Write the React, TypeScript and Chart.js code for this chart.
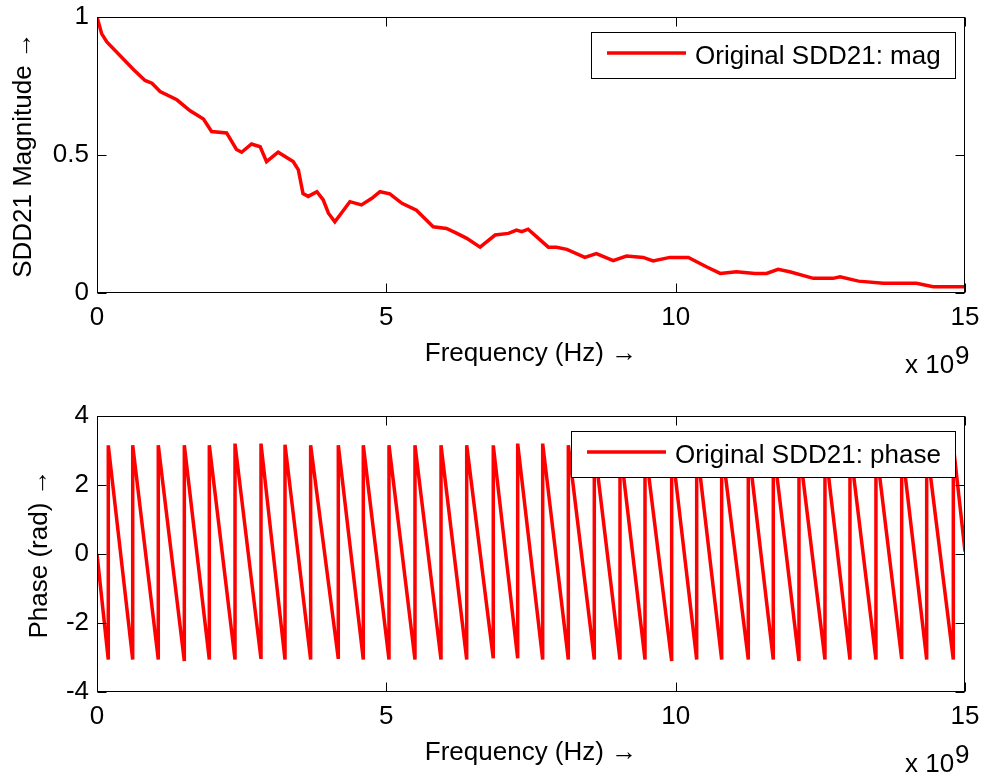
import React, { useEffect, useRef } from 'react';
import { Chart, registerables } from 'chart.js';

Chart.register(...registerables);

const FONT = "'Liberation Sans', Arial, Helvetica, sans-serif";

// ---- Magnitude of SDD21 (frequency in GHz, i.e. x 10^9 Hz) ----
const magFreqGHz = [
  0, 0.08, 0.17, 0.63, 0.83, 0.95, 1.09, 1.38, 1.61, 1.84, 1.98, 2.24, 2.41, 2.5, 2.67, 2.82, 2.93,
  3.13, 3.39, 3.48, 3.56, 3.65, 3.8, 3.91, 4.0, 4.11, 4.26, 4.37, 4.57, 4.75, 4.89, 5.06, 5.27, 5.52,
  5.81, 6.04, 6.22, 6.39, 6.62, 6.88, 7.11, 7.25, 7.34, 7.45, 7.8, 7.94, 8.12, 8.43, 8.63, 8.92, 9.15,
  9.44, 9.61, 9.9, 10.22, 10.53, 10.77, 11.05, 11.37, 11.57, 11.77, 11.97, 12.38, 12.72, 12.84, 13.16,
  13.59, 14.16, 14.45, 15.0,
];
const magValue = [
  1.0, 0.94, 0.91, 0.81, 0.77, 0.76, 0.73, 0.7, 0.66, 0.63, 0.585, 0.58, 0.52, 0.51, 0.54, 0.53, 0.476,
  0.51, 0.476, 0.446, 0.36, 0.35, 0.367, 0.337, 0.289, 0.258, 0.3, 0.331, 0.319, 0.343, 0.367, 0.359, 0.325, 0.3,
  0.24, 0.234, 0.216, 0.198, 0.166, 0.21, 0.216, 0.228, 0.222, 0.231, 0.166, 0.166, 0.158, 0.129, 0.143, 0.117, 0.134,
  0.129, 0.116, 0.129, 0.129, 0.095, 0.071, 0.077, 0.071, 0.071, 0.086, 0.077, 0.053, 0.053, 0.059, 0.043,
  0.035, 0.035, 0.023, 0.023,
];

// ---- Phase of SDD21 (wrapped): frequencies where the phase jumps from trough to peak ----
const phaseWrapGHz = [
  0.195, 0.617, 1.059, 1.509, 1.941, 2.385, 2.834, 3.249, 3.692, 4.17, 4.602, 5.046, 5.495, 5.945,
  6.389, 6.848, 7.27, 7.702, 8.145, 8.594, 9.038, 9.47, 9.931, 10.363, 10.795, 11.255, 11.687,
  12.131, 12.58, 13.012, 13.461, 13.906, 14.338, 14.798,
];
const phasePeak = [
  3.15, 3.15, 3.15, 3.15, 3.15, 3.2, 3.2, 3.17, 3.15, 3.15, 3.15, 3.15, 3.15, 3.15, 3.15, 3.15, 3.2,
  3.2, 3.15, 3.15, 3.15, 3.15, 3.15, 3.15, 3.15, 3.15, 3.15, 3.15, 3.15, 3.15, 3.15, 3.15, 3.15, 3.15,
];
const phaseTrough = [
  -3.06, -3.06, -3.06, -3.1, -3.06, -3.06, -3.04, -3.06, -3.06, -3.04, -3.06, -3.06, -3.06, -3.06,
  -3.06, -3.02, -3.02, -3.06, -3.06, -3.06, -3.06, -3.06, -3.1, -3.06, -3.06, -3.06, -3.06, -3.1,
  -3.06, -3.06, -3.06, -3.04, -3.06, -3.06,
];
const phaseStartGHz = 0;
const phaseStartValue = 0;
const phaseEndGHz = 15;
const phaseEndValue = 0.07;

const xTickStep = 5;
const magTickStep = 0.5;
const phaseTickStep = 2;

const matlabPlugin = {
  id: 'matlabAxes',
  afterDraw(chart: any) {
    const { ctx, chartArea: a, scales } = chart;
    const xs = scales.x;
    const ys = scales.y;
    ctx.save();
    ctx.strokeStyle = '#000';
    ctx.lineWidth = 1;
    const L = Math.round(a.left) + 0.5;
    const R = Math.round(a.right) - 0.5;
    const T = Math.round(a.top) + 0.5;
    const B = Math.round(a.bottom) - 0.5;
    ctx.strokeRect(L, T, R - L, B - T);
    const tl = 9;
    ctx.beginPath();
    xs.ticks.forEach((t: any) => {
      const p = Math.round(xs.getPixelForValue(t.value)) + 0.5;
      ctx.moveTo(p, B);
      ctx.lineTo(p, B - tl);
      ctx.moveTo(p, T);
      ctx.lineTo(p, T + tl);
    });
    ys.ticks.forEach((t: any) => {
      const p = Math.round(ys.getPixelForValue(t.value)) + 0.5;
      ctx.moveTo(L, p);
      ctx.lineTo(L + tl, p);
      ctx.moveTo(R, p);
      ctx.lineTo(R - tl, p);
    });
    ctx.stroke();

    // legend box (MATLAB style, top-right inside axes)
    const label = chart.data.datasets[0].label as string;
    ctx.font = `26px ${FONT}`;
    const tw = ctx.measureText(label).width;
    const bw = Math.round(16 + 79 + 9 + tw + 14);
    const bh = 46;
    const bx = Math.round(a.right - 10 - bw);
    const by = Math.round(a.top + 15);
    ctx.fillStyle = '#fff';
    ctx.fillRect(bx, by, bw, bh);
    ctx.strokeStyle = '#000';
    ctx.lineWidth = 1;
    ctx.strokeRect(bx + 0.5, by + 0.5, bw, bh);
    ctx.strokeStyle = '#ff0000';
    ctx.lineWidth = 3.5;
    ctx.beginPath();
    ctx.moveTo(bx + 16, by + bh / 2 - 2);
    ctx.lineTo(bx + 95, by + bh / 2 - 2);
    ctx.stroke();
    ctx.fillStyle = '#000';
    ctx.textAlign = 'left';
    ctx.textBaseline = 'alphabetic';
    ctx.fillText(label, bx + 104, by + bh / 2 + 9);

    // x-axis exponent
    ctx.fillText('x 10', a.right - 60, a.bottom + 80);
    ctx.fillText('9', a.right - 10, a.bottom + 71);
    ctx.restore();
  },
};

const zeroPad = (s: any) => {
  s.paddingTop = 0;
  s.paddingBottom = 0;
  s.paddingLeft = 0;
  s.paddingRight = 0;
};

function makeConfig(points: { x: number; y: number }[], label: string, yTitle: string, yMin: number, yMax: number, yStep: number, yTitlePad: number) {
  return {
    type: 'line' as const,
    data: {
      datasets: [
        {
          label,
          data: points,
          borderColor: '#ff0000',
          backgroundColor: '#ff0000',
          borderWidth: 3.5,
          pointRadius: 0,
          tension: 0,
          fill: false,
        },
      ],
    },
    options: {
      animation: false as const,
      responsive: false,
      maintainAspectRatio: false,
      layout: { padding: { top: 17, right: 17, left: 0, bottom: 0 } },
      plugins: {
        legend: { display: false },
        tooltip: { enabled: false },
      },
      scales: {
        x: {
          type: 'linear' as const,
          min: 0,
          max: 15,
          ticks: {
            stepSize: xTickStep,
            padding: 9,
            color: '#000',
            font: { family: FONT, size: 26 },
            maxRotation: 0,
            callback: (v: any) => String(v),
          },
          grid: { display: false, drawTicks: false },
          border: { display: false },
          title: {
            display: true,
            text: 'Frequency (Hz) \u2192',
            color: '#000',
            font: { family: FONT, size: 26 },
            padding: { top: 0, bottom: 8 },
          },
          afterFit: (s: any) => {
            s.height = 84;
            zeroPad(s);
          },
        },
        y: {
          type: 'linear' as const,
          min: yMin,
          max: yMax,
          ticks: {
            stepSize: yStep,
            padding: 8,
            color: '#000',
            font: { family: FONT, size: 26 },
            callback: (v: any) => String(Math.round(v * 100) / 100),
          },
          grid: { display: false, drawTicks: false },
          border: { display: false },
          title: {
            display: true,
            text: yTitle,
            color: '#000',
            font: { family: FONT, size: 26 },
            padding: { top: yTitlePad, bottom: 0 },
          },
          afterFit: (s: any) => {
            s.width = 97;
            zeroPad(s);
          },
        },
      },
    },
    plugins: [matlabPlugin],
  };
}

export default function App() {
  const topRef = useRef<HTMLCanvasElement>(null);
  const botRef = useRef<HTMLCanvasElement>(null);

  useEffect(() => {
    const magPoints = magFreqGHz.map((f, i) => ({ x: f, y: magValue[i] }));
    const phasePoints: { x: number; y: number }[] = [{ x: phaseStartGHz, y: phaseStartValue }];
    phaseWrapGHz.forEach((f, i) => {
      phasePoints.push({ x: f, y: phaseTrough[i] });
      phasePoints.push({ x: f, y: phasePeak[i] });
    });
    phasePoints.push({ x: phaseEndGHz, y: phaseEndValue });

    const c1 = new Chart(
      topRef.current as HTMLCanvasElement,
      makeConfig(magPoints, 'Original SDD21: mag', 'SDD21 Magnitude \u2192', 0, 1, magTickStep, 8) as any
    );
    const c2 = new Chart(
      botRef.current as HTMLCanvasElement,
      makeConfig(phasePoints, 'Original SDD21: phase', 'Phase (rad) \u2192', -4, 4, phaseTickStep, 24) as any
    );
    return () => {
      c1.destroy();
      c2.destroy();
    };
  }, []);

  return (
    <div style={{ position: 'absolute', left: 0, top: 0, width: 982, height: 776, background: '#fff' }}>
      <canvas
        ref={topRef}
        width={982}
        height={377}
        style={{ position: 'absolute', left: 0, top: 0, width: 982, height: 377 }}
      />
      <canvas
        ref={botRef}
        width={982}
        height={377}
        style={{ position: 'absolute', left: 0, top: 399, width: 982, height: 377 }}
      />
    </div>
  );
}
